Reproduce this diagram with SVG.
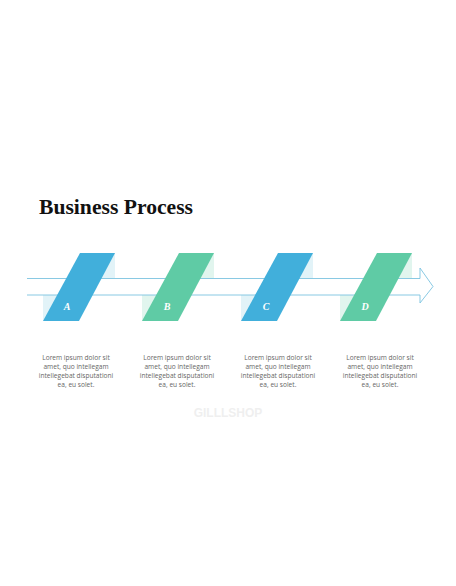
<svg xmlns="http://www.w3.org/2000/svg" width="456" height="586" viewBox="0 0 456 586">
<style>
.title{font-family:"Liberation Serif",serif;font-weight:bold;font-size:21px;fill:#111}
.lbl{font-family:"Liberation Serif",serif;font-weight:bold;font-style:italic;font-size:10px;fill:#fff;text-anchor:middle}
.body{font-family:"Open Sans","Liberation Sans",sans-serif;font-size:6.6px;fill:#666;text-anchor:middle}
.wm{font-family:"Liberation Sans",sans-serif;font-weight:bold;font-size:12px;fill:#efefef;text-anchor:middle}
.blue{fill:#41afdb}
.green{fill:#5fcba5}
.lblue{fill:#e2f3f8}
.lgreen{fill:#e1f5ee}
</style>
<rect width="456" height="586" fill="#fff"/>
<text class="title" x="39" y="214" textLength="154" lengthAdjust="spacingAndGlyphs">Business Process</text>
<g id="arrow-bg">
<rect class="lblue" x="100" y="253" width="15" height="25"/>
<rect class="lblue" x="43" y="295" width="19" height="26"/>
<rect class="lgreen" x="199" y="253" width="15" height="25"/>
<rect class="lgreen" x="142" y="295" width="19" height="26"/>
<rect class="lblue" x="298" y="253" width="15" height="25"/>
<rect class="lblue" x="241" y="295" width="19" height="26"/>
<rect class="lgreen" x="397" y="253" width="15" height="25"/>
<rect class="lgreen" x="340" y="295" width="19" height="26"/>
</g>
<g id="connectors">
<path d="M27 278.5 H420 V268 L433 286.5 L420 303 V295 H27" fill="none" stroke="#7cc3e0" stroke-width="0.9"/>
</g>
<g id="node-A">
<polygon class="blue" points="80,253 115,253 79,321 43,321"/>
<text class="lbl" x="67" y="310">A</text>
</g>
<g id="node-B">
<polygon class="green" points="179,253 214,253 178,321 142,321"/>
<text class="lbl" x="167" y="310">B</text>
</g>
<g id="node-C">
<polygon class="blue" points="278,253 313,253 277,321 241,321"/>
<text class="lbl" x="266" y="310">C</text>
</g>
<g id="node-D">
<polygon class="green" points="377,253 412,253 376,321 340,321"/>
<text class="lbl" x="365" y="310">D</text>
</g>
<g id="text-A">
<text class="body" x="76" y="360">Lorem ipsum dolor sit</text>
<text class="body" x="76" y="369">amet, quo intellegam</text>
<text class="body" x="76" y="378">intellegebat disputationi</text>
<text class="body" x="76" y="387">ea, eu solet.</text>
</g>
<g id="text-B">
<text class="body" x="177" y="360">Lorem ipsum dolor sit</text>
<text class="body" x="177" y="369">amet, quo intellegam</text>
<text class="body" x="177" y="378">intellegebat disputationi</text>
<text class="body" x="177" y="387">ea, eu solet.</text>
</g>
<g id="text-C">
<text class="body" x="278" y="360">Lorem ipsum dolor sit</text>
<text class="body" x="278" y="369">amet, quo intellegam</text>
<text class="body" x="278" y="378">intellegebat disputationi</text>
<text class="body" x="278" y="387">ea, eu solet.</text>
</g>
<g id="text-D">
<text class="body" x="380" y="360">Lorem ipsum dolor sit</text>
<text class="body" x="380" y="369">amet, quo intellegam</text>
<text class="body" x="380" y="378">intellegebat disputationi</text>
<text class="body" x="380" y="387">ea, eu solet.</text>
</g>
<text class="wm" x="228" y="417">GILLLSHOP</text>
</svg>
